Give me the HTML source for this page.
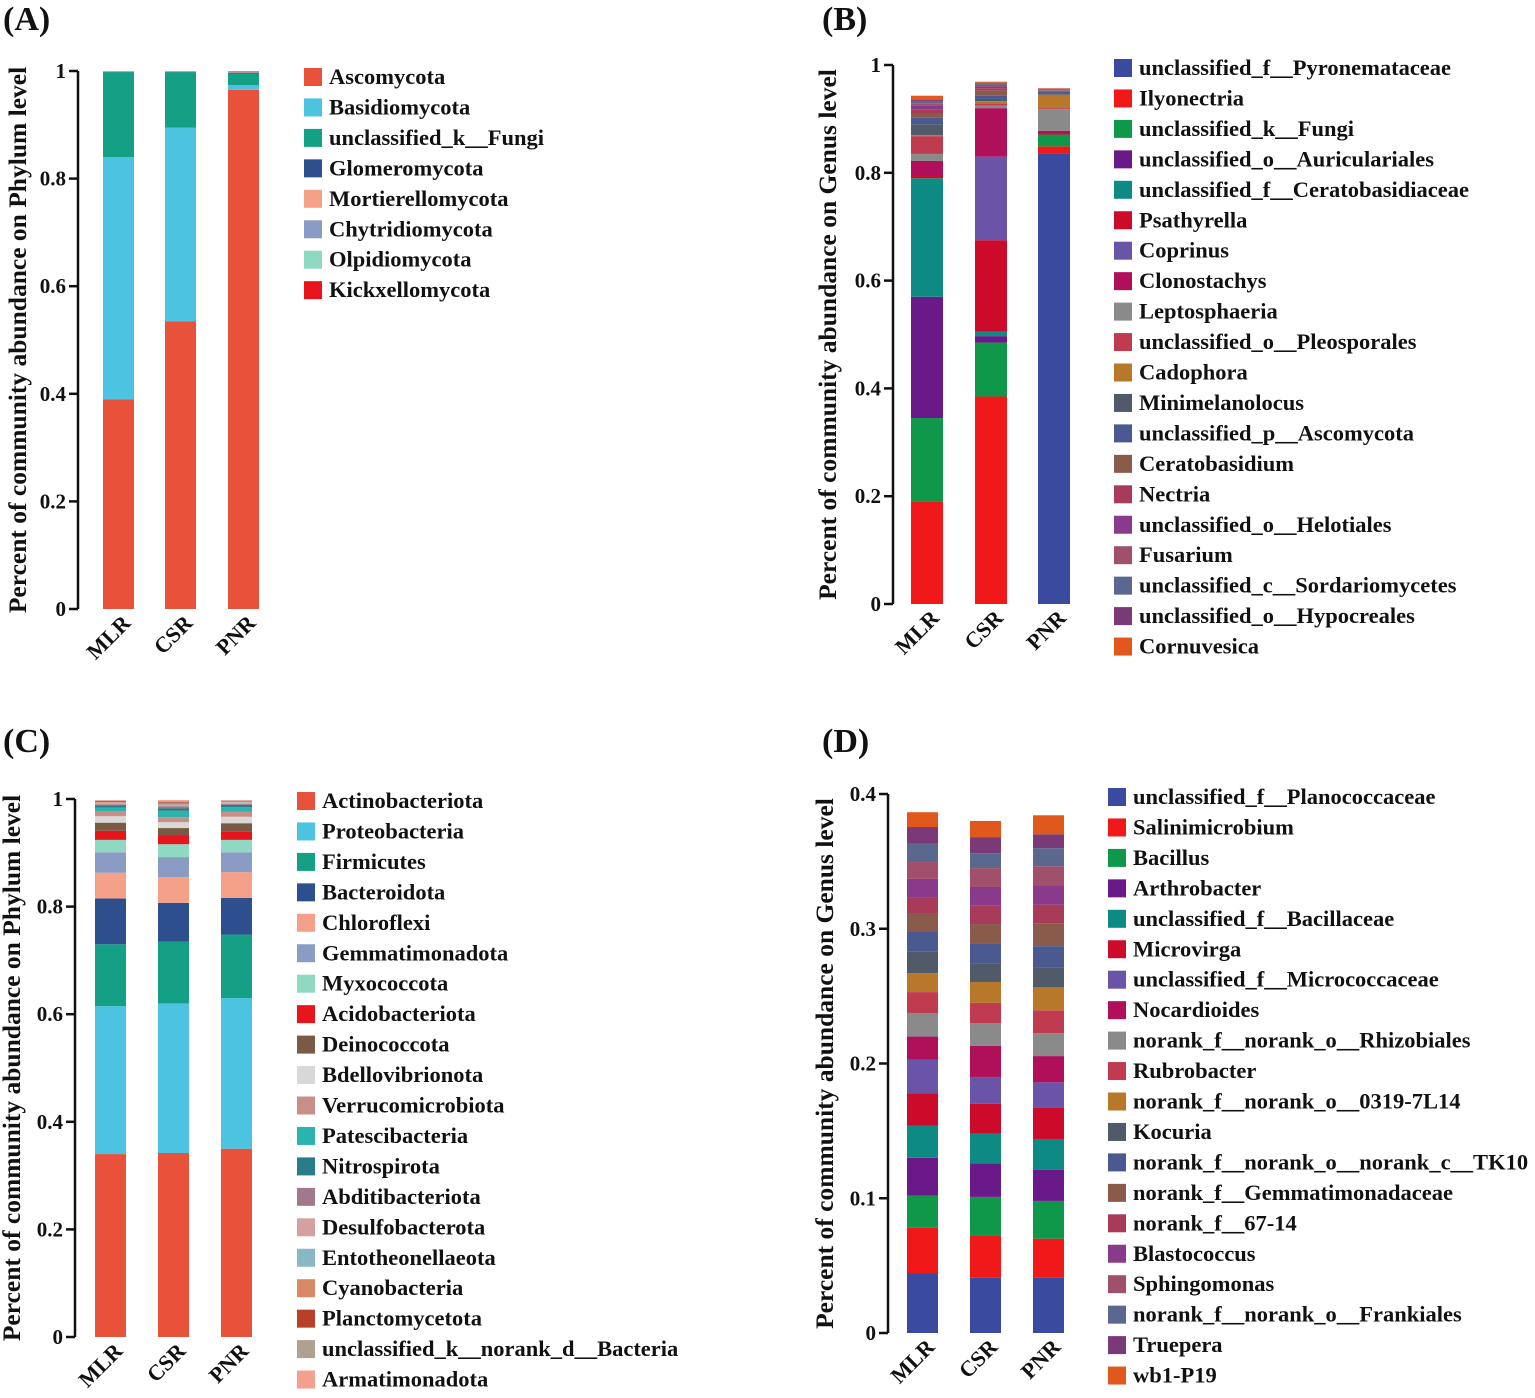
<!DOCTYPE html>
<html><head><meta charset="utf-8"><style>
body{margin:0;background:#fff}
svg text{font-family:"Liberation Serif",serif;font-weight:bold;fill:#111}
</style></head><body>
<svg id="s" width="1535" height="1393"></svg>
<script>
const groups=["MLR","CSR","PNR"];
// Panel A
const catsA=["Ascomycota","Basidiomycota","unclassified_k__Fungi","Glomeromycota","Mortierellomycota","Chytridiomycota","Olpidiomycota","Kickxellomycota"];
const colsA=["#e8513a","#4cc3e0","#13a085","#2e4f8e","#f5a088","#8a9cc4","#8fd8c2","#e8161c"];
const A_MLR=[0.39,0.45,0.158,0.0005,0.0005,0.0004,0.0003,0.0003];
const A_CSR=[0.535,0.36,0.103,0.0005,0.0005,0.0004,0.0003,0.0003];
const A_PNR=[0.965,0.009,0.021,0.002,0.001,0.001,0.0005,0.0005];
const ticksA=["0","0.2","0.4","0.6","0.8","1"];
// Panel B
const catsB=["unclassified_f__Pyronemataceae","Ilyonectria","unclassified_k__Fungi","unclassified_o__Auriculariales","unclassified_f__Ceratobasidiaceae","Psathyrella","Coprinus","Clonostachys","Leptosphaeria","unclassified_o__Pleosporales","Cadophora","Minimelanolocus","unclassified_p__Ascomycota","Ceratobasidium","Nectria","unclassified_o__Helotiales","Fusarium","unclassified_c__Sordariomycetes","unclassified_o__Hypocreales","Cornuvesica"];
const colsB=["#3a4a9e","#f01818","#10984a","#6a1a88","#0e8a84","#cc0a2a","#6a54a8","#b0105a","#8a8a8a","#c03a50","#b8782a","#505a68","#4a5a90","#8a5a4a","#a83a5a","#8a3a8a","#a0506a","#5a6890","#7a3a78","#e0581c"];
const B_MLR=[0,0.19,0.155,0.225,0.22,0.005,0,0.027,0.013,0.033,0.002,0.02,0.012,0.008,0.008,0.006,0.005,0.003,0.003,0.008];
const B_CSR=[0,0.385,0.1,0.012,0.008,0.17,0.155,0.09,0.005,0.004,0.004,0.004,0.006,0.01,0.004,0.003,0.003,0.003,0.001,0.002];
const B_PNR=[0.835,0.014,0.022,0,0,0.002,0,0.005,0.04,0.002,0.025,0.002,0.003,0,0.001,0.001,0.001,0.002,0.001,0.001];
const ticksB=["0","0.2","0.4","0.6","0.8","1"];
// Panel C
const catsC=["Actinobacteriota","Proteobacteria","Firmicutes","Bacteroidota","Chloroflexi","Gemmatimonadota","Myxococcota","Acidobacteriota","Deinococcota","Bdellovibrionota","Verrucomicrobiota","Patescibacteria","Nitrospirota","Abditibacteriota","Desulfobacterota","Entotheonellaeota","Cyanobacteria","Planctomycetota","unclassified_k__norank_d__Bacteria","Armatimonadota"];
const colsC=["#e8513a","#4cc3e0","#13a085","#2e4f8e","#f5a088","#8a9cc4","#8fd8c2","#e8161c","#7a5a44","#d8d8d8","#c98e86","#2ab4ad","#2a7c88","#a07a8c","#d4a0a0","#88b8c4","#d88a66","#b8402a","#b0a090","#f4a090"];
const C_MLR=[0.34,0.275,0.115,0.085,0.048,0.038,0.023,0.017,0.015,0.012,0.009,0.007,0.004,0.002,0.002,0.001,0.001,0.002,0.001,0.001];
const C_CSR=[0.342,0.278,0.115,0.072,0.048,0.037,0.024,0.017,0.013,0.011,0.009,0.012,0.005,0.003,0.002,0.002,0.002,0.002,0.002,0.002];
const C_PNR=[0.35,0.28,0.118,0.068,0.048,0.037,0.023,0.016,0.015,0.012,0.009,0.009,0.004,0.002,0.002,0.001,0.001,0.001,0.001,0.001];
const ticksC=["0","0.2","0.4","0.6","0.8","1"];
// Panel D
const catsD=["unclassified_f__Planococcaceae","Salinimicrobium","Bacillus","Arthrobacter","unclassified_f__Bacillaceae","Microvirga","unclassified_f__Micrococcaceae","Nocardioides","norank_f__norank_o__Rhizobiales","Rubrobacter","norank_f__norank_o__0319-7L14","Kocuria","norank_f__norank_o__norank_c__TK10","norank_f__Gemmatimonadaceae","norank_f__67-14","Blastococcus","Sphingomonas","norank_f__norank_o__Frankiales","Truepera","wb1-P19"];
const colsD=colsB;
const D_MLR=[0.0445,0.0335,0.024,0.028,0.024,0.024,0.025,0.017,0.0175,0.0155,0.014,0.016,0.015,0.013,0.0125,0.0135,0.0125,0.0135,0.0125,0.011];
const D_CSR=[0.041,0.031,0.029,0.025,0.022,0.022,0.02,0.023,0.017,0.015,0.0155,0.014,0.0145,0.0145,0.014,0.0135,0.014,0.011,0.012,0.012];
const D_PNR=[0.041,0.029,0.028,0.023,0.023,0.023,0.019,0.0195,0.017,0.017,0.017,0.015,0.0156,0.017,0.0138,0.0145,0.014,0.0134,0.0103,0.0141];
const ticksD=["0","0.1","0.2","0.3","0.4"];

const NS="http://www.w3.org/2000/svg";
const svg=document.getElementById('s');
function mk(tag,attrs,parent){const e=document.createElementNS(NS,tag);for(const k in attrs)e.setAttribute(k,attrs[k]);(parent||svg).appendChild(e);return e;}

function panel(p){
  const g=mk('g',{});
  
  
  const y=v=>p.y0-(v/p.max)*(p.y0-p.y1);
  const lab=mk('text',{x:p.lx,y:p.ly,'font-size':34},g);lab.textContent='('+p.id.toUpperCase()+')';
  
  
  mk('line',{x1:p.ax,x2:p.ax,y1:p.y1,y2:p.y0,stroke:'#111','stroke-width':2.5},g);
  p.ticks.forEach(t=>{
    const v=parseFloat(t),yy=y(v);
    mk('line',{x1:p.ax-9,x2:p.ax,y1:yy,y2:yy,stroke:'#111','stroke-width':2.5},g);
    const tx=mk('text',{x:p.ax-12,y:yy+7,'font-size':21,'text-anchor':'end'},g);tx.textContent=t;
    
    
  });
  const yt=mk('text',{transform:`translate(${p.tx},${(p.y0+p.y1)/2}) rotate(-90)`,'font-size':25.5,'text-anchor':'middle'},g);
  yt.textContent=p.title;
  
  
  p.series.forEach((vals,i)=>{
    const bx=p.bx[i];let cum=0;
    vals.forEach((v,j)=>{
      if(v<=0)return;
      const r=mk('rect',{x:bx,y:y(cum+v),width:p.bw,height:y(cum)-y(cum+v),fill:p.cols[j]},g);
      
      
      cum+=v;
    });
    const cx=bx+p.bw/2+2,cy=p.y0+4;
    const xl=mk('text',{transform:`translate(${cx},${cy}) rotate(-45)`,'font-size':22,'text-anchor':'end','dominant-baseline':'hanging'},g);
    xl.textContent=groups[i];
    
    
  });
  p.cats.forEach((c,j)=>{
    const yy=p.legY+j*30.45;
    const le=mk('g',{},g);
    
    
    mk('rect',{x:p.legX,y:yy-9,width:18,height:18,fill:p.cols[j]},le);
    const t=mk('text',{x:p.legX+25,y:yy+7,'font-size':22.5},le);t.textContent=c;
  });
}
panel({id:'a',lx:3,ly:30,ax:78,y0:609,y1:71,max:1,ticks:ticksA,tx:26,title:'Percent of community abundance on Phylum level',bx:[103,165,228],bw:31,series:[A_MLR,A_CSR,A_PNR],cats:catsA,cols:colsA,legX:304,legY:77});
panel({id:'b',lx:822,ly:30,ax:893,y0:604,y1:65,max:1,ticks:ticksB,tx:836,title:'Percent of community abundance on Genus level',bx:[911,975,1038],bw:32,series:[B_MLR,B_CSR,B_PNR],cats:catsB,cols:colsB,legX:1114,legY:68});
panel({id:'c',lx:3,ly:752,ax:75,y0:1337,y1:799,max:1,ticks:ticksC,tx:20,title:'Percent of community abundance on Phylum level',bx:[95,158,221],bw:31,series:[C_MLR,C_CSR,C_PNR],cats:catsC,cols:colsC,legX:297,legY:801});
panel({id:'d',lx:822,ly:752,ax:888,y0:1333,y1:794,max:0.4,ticks:ticksD,tx:833,title:'Percent of community abundance on Genus level',bx:[907,970,1033],bw:31,series:[D_MLR,D_CSR,D_PNR],cats:catsD,cols:colsD,legX:1108,legY:797});
</script>
</body></html>
